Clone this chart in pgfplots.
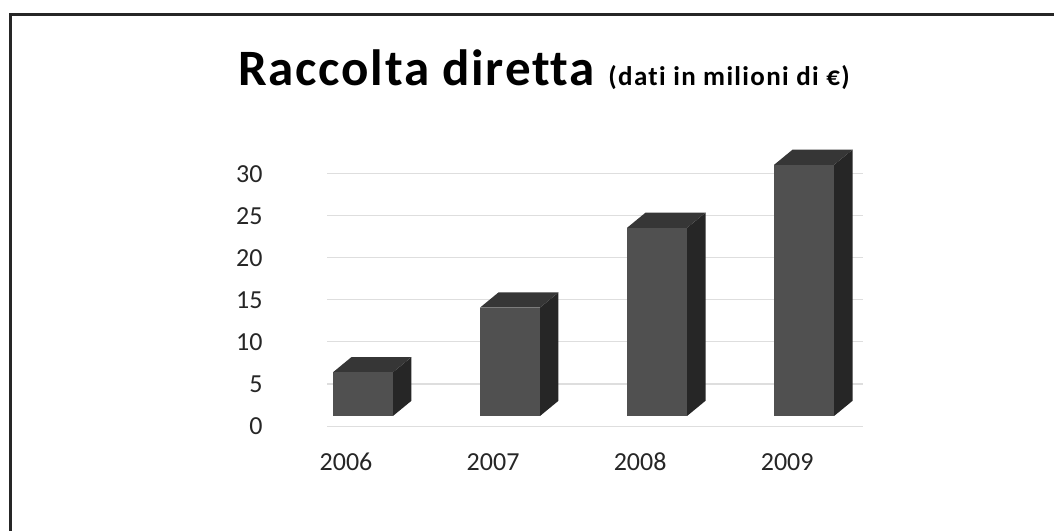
\documentclass[border=0pt]{standalone}
\usepackage{pgfplots}
\pgfplotsset{compat=1.18}
\usepackage{pgfplotstable}
\usepackage{fontspec}
\setmainfont{Carlito}
\newfontfamily\titlefont{Carlito}[LetterSpace=3.4, Ligatures=NoCommon]
\newfontfamily\subfont{Carlito}[LetterSpace=5, Ligatures=NoCommon]
\definecolor{frontc}{HTML}{505050}
\definecolor{sidec}{HTML}{262626}
\definecolor{topc}{HTML}{363636}
\definecolor{framec}{HTML}{262626}

\pgfplotstableread{
x v
0 5.2
1 12.9
2 22.4
3 29.9
}\data

\def\fl{1.2}
\def\hw{0.204}
\def\dx{0.125}
\def\dy{1.8}

\begin{document}
\begin{tikzpicture}[x=1pt,y=1pt]
\useasboundingbox (0,0) rectangle (527,265);
% outer frame (top and left edges)
\draw[framec, line width=1.5pt] (5.25,-2) -- (5.25,257.5) -- (530,257.5);
% title
\node[anchor=base west, inner sep=0pt, font=\titlefont\bfseries\fontsize{25.5}{30}\selectfont] at (119,222) {Raccolta diretta};
\node[anchor=base west, inner sep=0pt, font=\subfont\bfseries\fontsize{13.5}{16}\selectfont] at (304,222) {(dati in milioni di €)};
\begin{axis}[
  at={(163.5pt,52pt)}, anchor=south west,
  scale only axis, width=268pt, height=142.8pt,
  xmin=-0.245, xmax=3.4, ymin=0, ymax=34,
  axis line style={draw=none}, major tick length=0pt,
  xtick={0,1,2,3}, xticklabels={2006,2007,2008,2009},
  ytick={0,5,...,30},
  ymajorgrids, grid style={black!13, line width=0.5pt},
  clip=false,
  tick label style={font=\fontsize{13}{15}\selectfont, text=black!85},
  /pgf/number format/assume math mode=true,
  yticklabel style={anchor=east, inner sep=0pt, xshift=-32pt},
  xticklabel style={anchor=base, inner sep=0pt, yshift=-22pt, xshift=-8.5pt},
]
\pgfplotsinvokeforeach{0,1,2,3}{
  \pgfplotstablegetelem{#1}{v}\of\data
  \pgfmathsetmacro\vtop{\fl+\pgfplotsretval}
  \pgfmathsetmacro\vtopb{\vtop+\dy}
  \pgfmathsetmacro\flb{\fl+\dy}
  \pgfmathsetmacro\xl{#1-\hw}
  \pgfmathsetmacro\xr{#1+\hw}
  \pgfmathsetmacro\xrr{#1+\hw+\dx}
  \pgfmathsetmacro\xlr{#1-\hw+\dx}
  \edef\temp{%
    \noexpand\addplot[draw=none, fill=sidec] coordinates {(\xr,\fl) (\xrr,\flb) (\xrr,\vtopb) (\xr,\vtop)} -- cycle;
    \noexpand\addplot[draw=none, fill=topc] coordinates {(\xl,\vtop) (\xr,\vtop) (\xrr,\vtopb) (\xlr,\vtopb)} -- cycle;
    \noexpand\addplot[draw=none, fill=frontc] coordinates {(\xl,\fl) (\xr,\fl) (\xr,\vtop) (\xl,\vtop)} -- cycle;
  }%
  \temp
}
\end{axis}
\end{tikzpicture}
\end{document}
